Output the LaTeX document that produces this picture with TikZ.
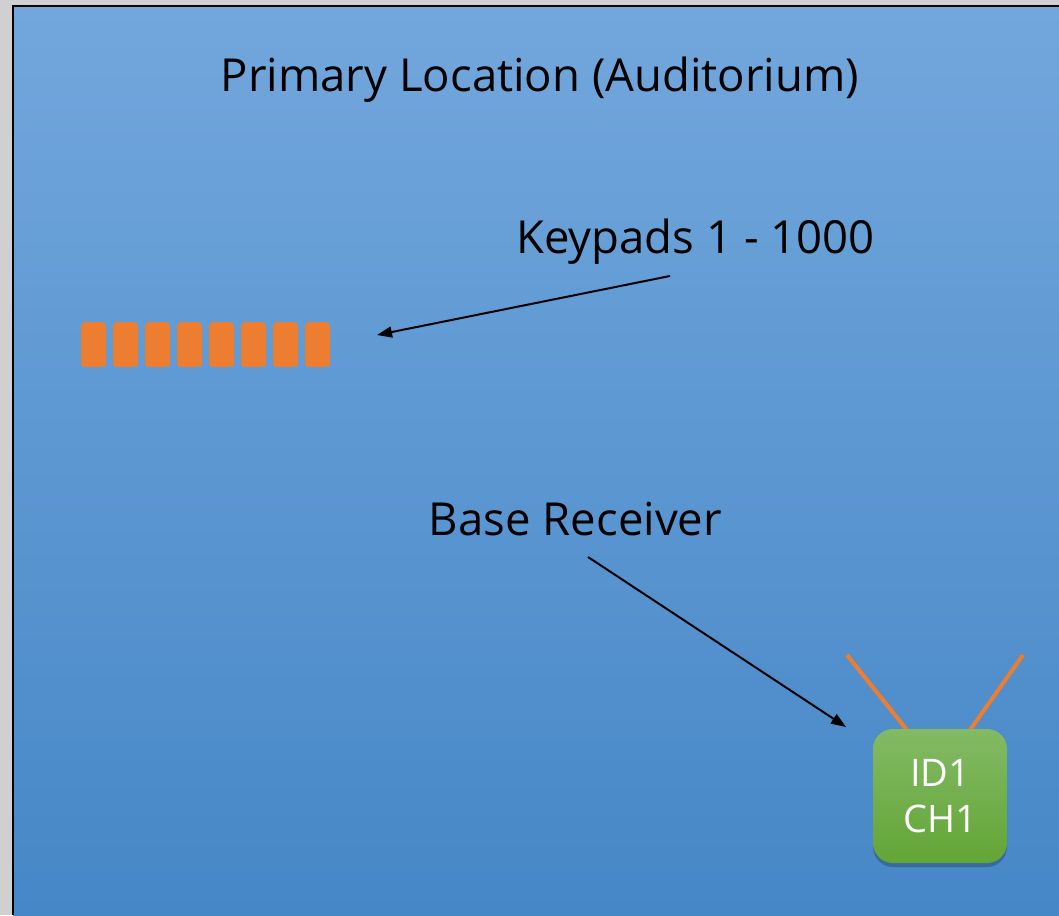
\documentclass[tikz,border=0pt]{standalone}
\usepackage{fontspec}
\setmainfont{Open Sans}
\usetikzlibrary{arrows.meta,shadows}
\definecolor{bgTop}{RGB}{114,167,220}
\definecolor{bgBot}{RGB}{70,135,199}
\definecolor{kpOrange}{RGB}{237,125,49}
\definecolor{rxTop}{RGB}{131,186,101}
\definecolor{rxBot}{RGB}{99,165,54}
\definecolor{outerGray}{RGB}{208,208,208}
\tikzset{
  keypad/.style={fill=kpOrange, rounded corners=4pt, minimum width=25pt, minimum height=45pt, inner sep=0pt},
  lbl/.style={font=\fontsize{45.5}{52}\selectfont, text=black, inner sep=0pt, anchor=base},
  pointer/.style={draw=black, line width=2pt, -{Triangle[length=15pt,width=11pt]}},
  antenna/.style={draw=kpOrange, line width=4pt},
  receiver/.style={rounded corners=20pt, top color=rxTop, bottom color=rxBot, minimum width=134pt, minimum height=134pt, inner sep=0pt, text=white, align=center, font=\fontsize{38}{46}\selectfont, drop shadow={shadow xshift=0pt, shadow yshift=-4pt, fill=black, opacity=0.22}}
}
\begin{document}
\begin{tikzpicture}[x=1pt,y=-1pt]
\useasboundingbox (0,0) rectangle (1059,915);
\fill[outerGray] (0,0) rectangle (1059,915);
\shade[top color=bgTop, bottom color=bgBot] (13,6) rectangle (1059,915);
\draw[black, line width=2pt] (13,915) -- (13,6) -- (1059,6);
% title
\node[lbl] (title) at (540,92) {Primary Location (Auditorium)};
% keypads
\foreach \i in {1,...,8} {
  \node[keypad] (kp\i) at ({81+12.5+(\i-1)*32},344.5) {};
}
\node[lbl] (kplbl) at (695.5,253) {Keypads 1 - 1000};
\coordinate (kpfrom) at (670,276);
\coordinate (kpto) at (377,335);
\draw[pointer] (kpfrom) -- (kpto);
% receiver
\node[lbl] (rxlbl) at (575.5,535) {Base Receiver};
\coordinate (ant1) at (847,655);
\coordinate (ant2) at (1023,655);
\draw[antenna] (ant1) -- (907,730);
\draw[antenna] (ant2) -- (970,730);
\node[receiver] (rx) at (940,796) {ID1\\CH1};
\coordinate (rxfrom) at (588,557);
\coordinate (rxto) at (846,727);
\draw[pointer] (rxfrom) -- (rxto);
\end{tikzpicture}
\end{document}
